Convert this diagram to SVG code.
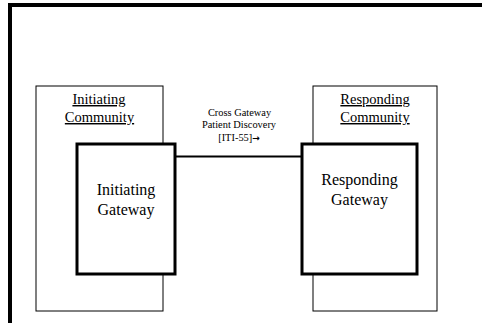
<svg xmlns="http://www.w3.org/2000/svg" width="482" height="323" viewBox="0 0 482 323">
<style>
text{font-family:"Liberation Serif","Times New Roman",serif;fill:#000;text-anchor:middle}
.community{fill:#fff;stroke:#000;stroke-width:1}
.gateway{fill:#fff;stroke:#000;stroke-width:3}
.lbl{font-size:14.5px;text-decoration:underline}
.gw{font-size:16px}
.sm{font-size:10.4px}
.arr{font-family:"DejaVu Sans",sans-serif;font-weight:bold;font-size:9px}
</style>
<rect x="0" y="0" width="482" height="323" fill="#fff"/>
<path d="M10,330 V5 H490" fill="none" stroke="#000" stroke-width="4"/>
<g id="initiating-community">
<rect class="community" x="36" y="86" width="127" height="225"/>
<text class="lbl" x="99" y="104">Initiating</text>
<text class="lbl" x="99.5" y="122">Community</text>
</g>
<g id="responding-community">
<rect class="community" x="313" y="86" width="124" height="225"/>
<text class="lbl" x="375" y="104">Responding</text>
<text class="lbl" x="375" y="122">Community</text>
</g>
<g id="connectors">
<line x1="175" y1="156.5" x2="302" y2="156.5" stroke="#000" stroke-width="2"/>
<text class="sm" x="239.5" y="115.5">Cross Gateway</text>
<text class="sm" x="239" y="127.5">Patient Discovery</text>
<text class="sm" x="239" y="141">[ITI-55]<tspan class="arr">→</tspan></text>
</g>
<g id="initiating-gateway">
<rect class="gateway" x="77" y="144" width="98" height="130"/>
<text class="gw" x="126" y="195">Initiating</text>
<text class="gw" x="126" y="214.5">Gateway</text>
</g>
<g id="responding-gateway">
<rect class="gateway" x="302" y="144" width="115" height="130"/>
<text class="gw" x="359.5" y="185">Responding</text>
<text class="gw" x="359.5" y="205">Gateway</text>
</g>
</svg>
